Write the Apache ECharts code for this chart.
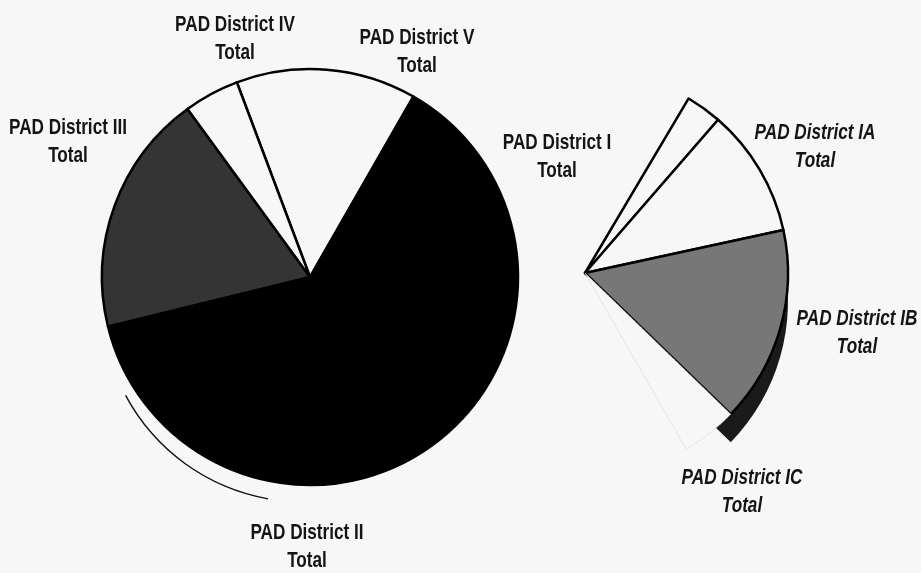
<!DOCTYPE html>
<html><head><meta charset="utf-8">
<script src="https://cdn.jsdelivr.net/npm/echarts@6/dist/echarts.min.js"></script>
<style>html,body{margin:0;padding:0;background:#f7f7f7}#c{width:921px;height:573px}</style>
</head><body><div id="c"></div>
<script>
// Main pie: PAD districts (share, %)
const mainNames = ['PAD District V Total', 'PAD District II Total', 'PAD District III Total', 'PAD District IV Total'];
const mainValues = [14.0, 62.9, 18.8, 4.3];
// Secondary pie: breakdown of PAD District I (share of the shown sector, %)
const subNames = ['PAD District I Total', 'PAD District IA Total', 'PAD District IB Total', 'PAD District IC Total'];
const subValues = [8.6, 30.8, 47.2, 13.4];

const BG = '#f7f7f7';
const mainColors = [BG, '#000000', '#343434', BG];
const subColors = [BG, BG, '#777777', BG];

// label placement (centre of the two-line label block)
const mainLabelPos = [[417, 52], [307, 547], [68, 142], [235, 39]];
const subLabelPos = [[557, 157], [815, 147], [857, 333], [742, 492]];

const subStart = 59.3;
const subSpan = 119.4;

function labelText(n) { return n.replace(' Total', '\nTotal'); }

const graphics = [];
function addLabel(n, pos, italic) {
  graphics.push({
    type: 'text', x: pos[0], y: pos[1], scaleX: 0.78, silent: true,
    style: { text: labelText(n), fill: '#141414', fontSize: 22, fontWeight: 'bold',
      fontStyle: italic ? 'italic' : 'normal',
      fontFamily: 'Liberation Sans, Arial, sans-serif',
      textAlign: 'center', textVerticalAlign: 'middle', align: 'center', verticalAlign: 'middle', lineHeight: 28 }
  });
}
mainNames.forEach((n, i) => addLabel(n, mainLabelPos[i], false));
subNames.forEach((n, i) => addLabel(n, subLabelPos[i], i !== 0));

const noLabel = { label: { show: false }, labelLine: { show: false }, silent: true };

const chart = echarts.init(document.getElementById('c'));
chart.setOption({
  backgroundColor: BG,
  animation: false,
  graphic: graphics,
  series: [
    Object.assign({
      // lower rim of the main pie (depth outline)
      type: 'pie', center: [303, 301], radius: [200.2, 201.6], startAngle: -100, endAngle: -152, clockwise: true, z: 1,
      data: [{ value: 1, name: 'rim', itemStyle: { color: '#111', borderWidth: 0 } }]
    }, noLabel),
    Object.assign({
      type: 'pie', center: [310, 277], radius: 208, startAngle: 110.6, clockwise: true, z: 2,
      itemStyle: { borderColor: '#000', borderWidth: 2.5 },
      data: mainNames.map((n, i) => ({ name: n, value: mainValues[i], itemStyle: { color: mainColors[i] } }))
    }, noLabel),
    Object.assign({
      // depth edge of the secondary sector
      type: 'pie', center: [585, 301], radius: [170, 203], startAngle: subStart, endAngle: subStart - subSpan,
      clockwise: true, z: 1,
      data: subNames.map((n, i) => ({ name: n, value: subValues[i],
        itemStyle: { color: i === 2 ? '#1a1a1a' : 'rgba(0,0,0,0)', borderWidth: 0 } }))
    }, noLabel),
    Object.assign({
      type: 'pie', center: [585, 273], radius: 203, startAngle: subStart, endAngle: subStart - subSpan,
      clockwise: true, z: 2,
      data: subNames.map((n, i) => ({ name: n, value: subValues[i],
        itemStyle: i === 3
          ? { color: BG, borderColor: '#d4d4d4', borderWidth: 1, borderType: 'dotted' }
          : { color: subColors[i], borderColor: '#000', borderWidth: 2.5 } }))
    }, noLabel)
  ]
});
</script>
</body></html>
